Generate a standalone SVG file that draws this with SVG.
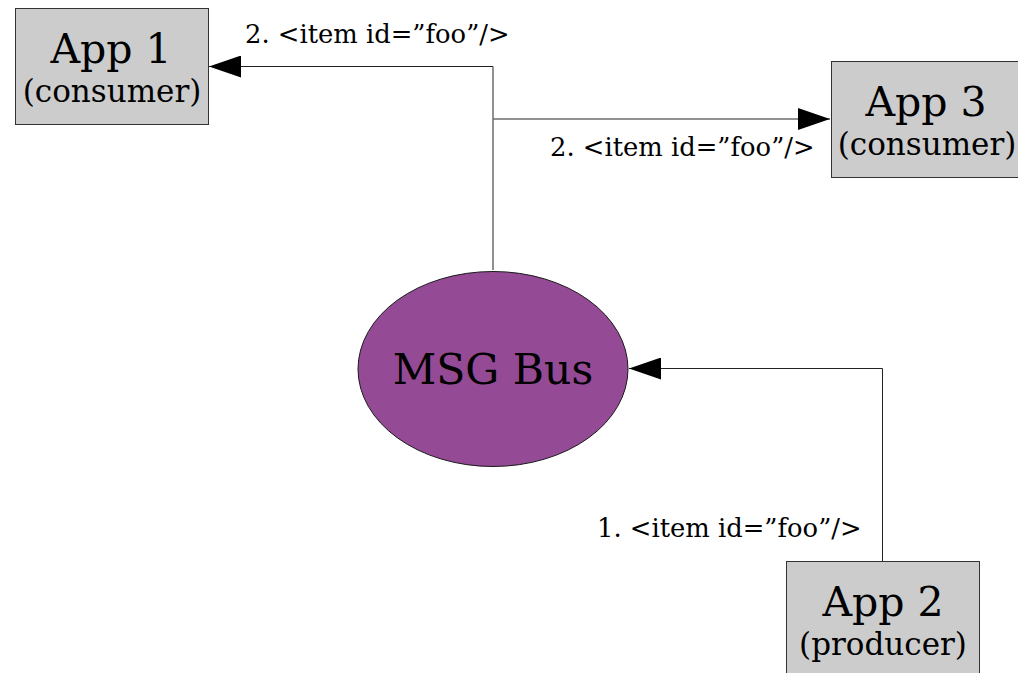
<svg xmlns="http://www.w3.org/2000/svg" width="1018" height="673" viewBox="0 0 1018 673">
<style>
.box{fill:#cccccc;stroke:#333333;stroke-width:1}
.bus{fill:#954a95;stroke:#1a1a1a;stroke-width:1}
.t1{font-family:"DejaVu Serif",serif;font-size:41px;fill:#000;text-anchor:middle}
.t2{font-family:"DejaVu Serif",serif;font-size:31px;fill:#000;text-anchor:middle}
.bt{font-family:"DejaVu Serif",serif;font-size:42.5px;fill:#000;text-anchor:middle}
.lbl{font-family:"DejaVu Serif",serif;font-size:25.8px;fill:#000}
.edge{fill:none;stroke:#222222;stroke-width:1}
</style>
<defs>
<marker id="arr" viewBox="0 0 32 22" refX="32" refY="11" markerWidth="32" markerHeight="22" markerUnits="userSpaceOnUse" orient="auto">
<path d="M0,0 L32,11 L0,22 Z" fill="#000"/>
</marker>
</defs>
<rect width="1018" height="673" fill="#ffffff"/>
<g id="connectors">
<path class="edge" d="M493,270 L493,66.5 L209,66.5" marker-end="url(#arr)"/>
<path class="edge" d="M493.5,119 L830,119" marker-end="url(#arr)"/>
<path class="edge" d="M882.5,561 L882.5,368.5 L629,368.5" marker-end="url(#arr)"/>
<text class="lbl" x="245" y="43">2. &lt;item id=”foo”/&gt;</text>
<text class="lbl" x="550" y="156">2. &lt;item id=”foo”/&gt;</text>
<text class="lbl" x="597" y="537">1. &lt;item id=”foo”/&gt;</text>
</g>
<g id="app1">
<rect class="box" x="15.5" y="8.5" width="193" height="116"/>
<text class="t1" x="111" y="63">App 1</text>
<text class="t2" x="112" y="102">(consumer)</text>
</g>
<g id="app3">
<rect class="box" x="831.5" y="61.5" width="193" height="116"/>
<text class="t1" x="926" y="116">App 3</text>
<text class="t2" x="927" y="155">(consumer)</text>
</g>
<g id="app2">
<rect class="box" x="786.5" y="561.5" width="193" height="116"/>
<text class="t1" x="883" y="616">App 2</text>
<text class="t2" x="883" y="655">(producer)</text>
</g>
<g id="bus">
<ellipse class="bus" cx="493" cy="369" rx="135" ry="97.5"/>
<text class="bt" x="493" y="384">MSG Bus</text>
</g>
</svg>
